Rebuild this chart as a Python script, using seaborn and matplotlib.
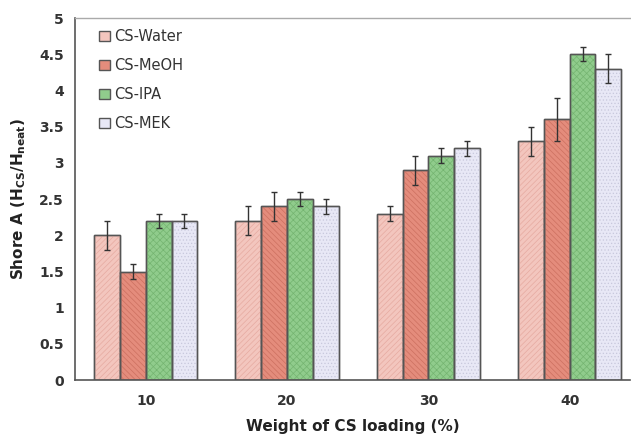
import matplotlib
matplotlib.use("Agg")
import matplotlib.pyplot as plt
import seaborn as sns
import pandas as pd
import numpy as np
from matplotlib.ticker import FuncFormatter, FixedLocator
from matplotlib.patches import Rectangle

categories = ["10", "20", "30", "40"]
series = ["CS-Water", "CS-MeOH", "CS-IPA", "CS-MEK"]
water = [2.0, 2.2, 2.3, 3.3]
meoh = [1.5, 2.4, 2.9, 3.6]
ipa = [2.2, 2.5, 3.1, 4.5]
mek = [2.2, 2.4, 3.2, 4.3]
water_err = [0.2, 0.2, 0.1, 0.2]
meoh_err = [0.1, 0.2, 0.2, 0.3]
ipa_err = [0.1, 0.1, 0.1, 0.1]
mek_err = [0.1, 0.1, 0.1, 0.2]

colors = ["#f3c6be", "#e48c7c", "#90cc8c", "#e8e8f6"]
hatch_colors = ["#e6aaa0", "#cc7060", "#74b470", "#c8c8dc"]
hatches = ["//////", "\\\\\\\\\\\\", "xxxxx", "....."]

vals = [water, meoh, ipa, mek]
errs = [water_err, meoh_err, ipa_err, mek_err]
rows = []
for s, v in zip(series, vals):
    for c, y in zip(categories, v):
        rows.append({"cat": c, "series": s, "value": y})
df = pd.DataFrame(rows)

sns.set_style("white")
plt.rcParams["font.family"] = ["DejaVu Sans"]
plt.rcParams["hatch.linewidth"] = 0.5

fig = plt.figure(figsize=(6.31, 4.4), dpi=100)
ax = fig.add_axes([0.119, 0.136, 0.88, 0.823])

sns.barplot(data=df, x="cat", y="value", hue="series", order=categories,
            hue_order=series, palette=colors, saturation=1, width=0.73,
            errorbar=None, edgecolor="#555555", linewidth=1.0, ax=ax,
            legend=True)

bar_conts = list(ax.containers)
for i, cont in enumerate(bar_conts):
    xs = []
    ys = []
    for p in cont.patches:
        overlay = Rectangle(p.get_xy(), p.get_width(), p.get_height(),
                            fill=False, hatch=hatches[i],
                            edgecolor=hatch_colors[i], linewidth=0,
                            zorder=p.get_zorder() + 0.01)
        ax.add_patch(overlay)
        outline = Rectangle(p.get_xy(), p.get_width(), p.get_height(),
                            fill=False, edgecolor="#555555", linewidth=1.0,
                            zorder=p.get_zorder() + 0.02)
        ax.add_patch(outline)
        xs.append(p.get_x() + p.get_width() / 2)
        ys.append(p.get_height())
    ax.errorbar(xs, ys, yerr=errs[i], fmt="none", ecolor="#333333",
                elinewidth=1.0, capsize=2.5, capthick=1.0, zorder=5)

ax.set_xlim(-0.5, 3.43)
ax.set_ylim(0, 5)
ax.set_yticks(np.arange(0, 5.01, 0.5))
ax.yaxis.set_major_formatter(FuncFormatter(lambda v, p: f"{v:g}"))
ax.tick_params(axis="y", direction="out", length=4, width=1, color="#555555",
               labelsize=10, labelcolor="#333333", pad=4)
ax.tick_params(axis="x", which="major", length=0, labelsize=10,
               labelcolor="#333333", pad=10)
ax.xaxis.set_minor_locator(FixedLocator([0.5, 1.5, 2.5]))
ax.tick_params(axis="x", which="minor", direction="out", length=3, width=1,
               color="#555555")
for lab in ax.get_xticklabels() + ax.get_yticklabels():
    lab.set_fontweight("bold")

for side in ["left", "bottom"]:
    ax.spines[side].set_color("#555555")
    ax.spines[side].set_linewidth(1.2)
ax.spines["top"].set_color("#aaaaaa")
ax.spines["top"].set_linewidth(1.0)
ax.spines["right"].set_visible(False)

ax.set_xlabel("Weight of CS loading (%)", fontsize=11, fontweight="bold",
              color="#222222", labelpad=8)
ax.set_ylabel(r"Shore A (H$_{\mathbf{CS}}$/H$_{\mathbf{neat}}$)", fontsize=11,
              fontweight="bold", color="#222222", labelpad=8)

handles, labels = ax.get_legend_handles_labels()
leg = ax.legend(handles, labels, loc="upper left", frameon=False,
                bbox_to_anchor=(0.02, 1.005), handlelength=0.7,
                handleheight=0.7, handletextpad=0.3, labelspacing=0.95,
                fontsize=10.5)
for t in leg.get_texts():
    t.set_color("#333333")

fig.savefig("out.png", dpi=100, facecolor="white")
